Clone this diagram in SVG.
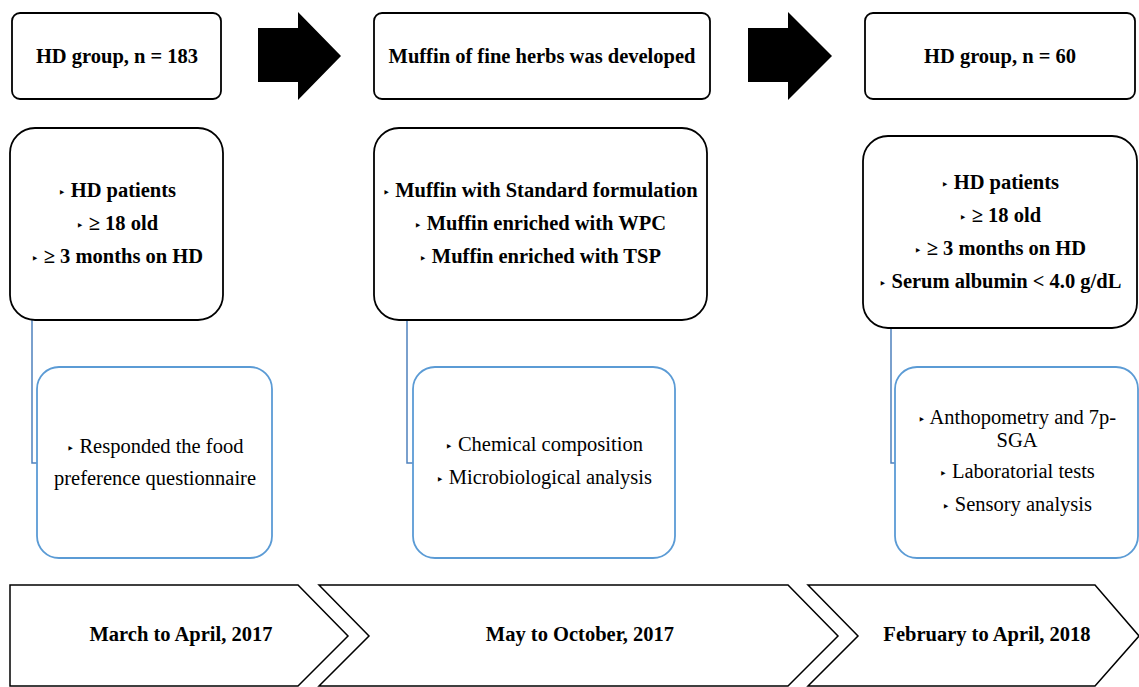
<svg xmlns="http://www.w3.org/2000/svg" width="1139" height="687" viewBox="0 0 1139 687">
<style>
.bx{fill:#fff;stroke:#000;stroke-width:1.8}
.bl{fill:#fff;stroke:#5b9bd5;stroke-width:1.8}
.ch{fill:#fff;stroke:#000;stroke-width:1.5}
.ar{fill:#000}
.cn{fill:none;stroke:#4f81bd;stroke-width:1.5}
text{font-family:"Liberation Serif","Times New Roman",serif;font-size:20.5px;fill:#000;text-anchor:middle}
.bd{font-weight:bold}
.u{font-family:"DejaVu Sans",sans-serif;font-size:13px;font-weight:normal}
</style>
<rect width="1139" height="687" fill="#fff"/>
<g id="top1"><rect class="bx" x="12" y="13" width="209" height="86" rx="8"/><text class="bd" x="117" y="63">HD group, n = 183</text></g>
<g id="arrow1"><polygon class="ar" points="258,28 298,28 298,12 341,56 298,100 298,82 258,82"/></g>
<g id="top2"><rect class="bx" x="374" y="13" width="336" height="86" rx="8"/><text class="bd" x="542" y="63">Muffin of fine herbs was developed</text></g>
<g id="arrow2"><polygon class="ar" points="748,28 788,28 788,12 832,56 788,100 788,82 748,82"/></g>
<g id="top3"><rect class="bx" x="865" y="13" width="270" height="86" rx="8"/><text class="bd" x="1000" y="63">HD group, n = 60</text></g>
<g id="connectors">
<path class="cn" d="M32,320 V463 H37"/>
<path class="cn" d="M407,320 V463 H413"/>
<path class="cn" d="M891,328 V463 H895"/>
</g>
<g id="critA"><rect class="bx" x="10" y="128" width="213" height="192" rx="25"/>
<text class="bd" x="117" y="197"><tspan class="u">‣</tspan> HD patients</text>
<text class="bd" x="117" y="230"><tspan class="u">‣</tspan> ≥ 18 old</text>
<text class="bd" x="117" y="263"><tspan class="u">‣</tspan> ≥ 3 months on HD</text></g>
<g id="critB"><rect class="bx" x="374" y="128" width="333" height="192" rx="25"/>
<text class="bd" x="540" y="197"><tspan class="u">‣</tspan> Muffin with Standard formulation</text>
<text class="bd" x="540" y="230"><tspan class="u">‣</tspan> Muffin enriched with WPC</text>
<text class="bd" x="540" y="263"><tspan class="u">‣</tspan> Muffin enriched with TSP</text></g>
<g id="critC"><rect class="bx" x="863" y="136" width="274" height="192" rx="25"/>
<text class="bd" x="1000" y="189"><tspan class="u">‣</tspan> HD patients</text>
<text class="bd" x="1000" y="222"><tspan class="u">‣</tspan> ≥ 18 old</text>
<text class="bd" x="1000" y="255"><tspan class="u">‣</tspan> ≥ 3 months on HD</text>
<text class="bd" x="1000" y="288"><tspan class="u">‣</tspan> Serum albumin &lt; 4.0 g/dL</text></g>
<g id="actA"><rect class="bl" x="37" y="367" width="235" height="191" rx="22"/>
<text x="155" y="453"><tspan class="u">‣</tspan> Responded the food</text>
<text x="155" y="485">preference questionnaire</text></g>
<g id="actB"><rect class="bl" x="413" y="367" width="262" height="191" rx="22"/>
<text x="544" y="451"><tspan class="u">‣</tspan> Chemical composition</text>
<text x="544" y="484"><tspan class="u">‣</tspan> Microbiological analysis</text></g>
<g id="actC"><rect class="bl" x="895" y="367" width="243" height="191" rx="22"/>
<text x="1017" y="424"><tspan class="u">‣</tspan> Anthopometry and 7p-</text>
<text x="1017" y="447">SGA</text>
<text x="1017" y="478"><tspan class="u">‣</tspan> Laboratorial tests</text>
<text x="1017" y="511"><tspan class="u">‣</tspan> Sensory analysis</text></g>
<g id="period1"><path class="ch" d="M10,585 H298 L348,636 L298,686 H10 Z"/><text class="bd" x="181" y="641">March to April, 2017</text></g>
<g id="period2"><path class="ch" d="M319,585 H788 L838,636 L788,686 H319 L369,636 Z"/><text class="bd" x="580" y="641">May to October, 2017</text></g>
<g id="period3"><path class="ch" d="M808,585 H1095 L1139,636 L1095,686 H808 L858,636 Z"/><text class="bd" x="987" y="641">February to April, 2018</text></g>
</svg>
